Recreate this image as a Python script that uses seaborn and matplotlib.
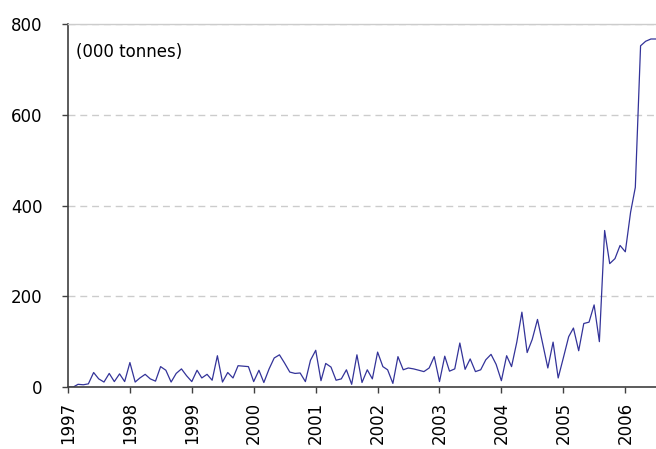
import pandas as pd
import seaborn as sns
import matplotlib.pyplot as plt
import matplotlib.dates as mdates

# Aylık değerler (000 ton), Ocak 1997'den Temmuz 2006'ya kadar
y1997 = [0, 0, 6, 5, 7, 32, 18, 11, 30, 12, 29, 12]
y1998 = [54, 11, 20, 28, 18, 13, 45, 37, 11, 30, 40, 25]
y1999 = [12, 37, 20, 28, 15, 69, 11, 32, 20, 47, 46, 45]
y2000 = [12, 37, 10, 40, 64, 71, 53, 33, 30, 31, 12, 59]
y2001 = [81, 14, 52, 44, 15, 18, 38, 6, 71, 10, 38, 18]
y2002 = [77, 45, 38, 8, 67, 38, 42, 40, 37, 34, 42, 67]
y2003 = [12, 68, 35, 40, 97, 39, 62, 34, 38, 60, 72, 50]
y2004 = [14, 69, 45, 99, 165, 76, 105, 149, 95, 42, 99, 20]
y2005 = [65, 111, 130, 80, 140, 143, 181, 100, 345, 272, 283, 312]
y2006 = [298, 385, 440, 752, 762, 767, 767]

values = y1997 + y1998 + y1999 + y2000 + y2001 + y2002 + y2003 + y2004 + y2005 + y2006
months = pd.date_range("1997-01-01", periods=len(values), freq="MS")
df = pd.DataFrame({"Month": months, "Tonnes": values})

# Görselleştirme ayarları
sns.set_theme(style="white")
plt.rcParams["font.family"] = ["DejaVu Sans"]

fig = plt.figure(figsize=(6.56, 4.49), dpi=100)
ax = fig.add_axes([0.1037, 0.138, 0.8963, 0.8085])

sns.lineplot(data=df, x="Month", y="Tonnes", color="#333399", linewidth=0.9, ax=ax)

ax.set_ylim(0, 800)
ax.set_yticks([0, 200, 400, 600, 800])
ax.set_xlim(pd.Timestamp("1997-01-01"), pd.Timestamp("2006-07-01"))
ax.xaxis.set_major_locator(mdates.YearLocator())
ax.xaxis.set_major_formatter(mdates.DateFormatter("%Y"))
ax.set_xlabel("")
ax.set_ylabel("")

# Kesikli yatay ızgara
ax.yaxis.grid(True, linestyle=(0, (5, 3.5)), color="#cccccc", linewidth=1)
ax.set_axisbelow(True)

for side in ["left", "bottom"]:
    ax.spines[side].set_color("#404040")
    ax.spines[side].set_linewidth(1.2)
ax.spines["right"].set_visible(False)
ax.spines["top"].set_color("#cccccc")
ax.spines["top"].set_linewidth(1)

ax.tick_params(axis="y", direction="out", length=4.5, width=1, color="#404040",
               labelsize=12, labelcolor="black", pad=14, left=True)
ax.tick_params(axis="x", direction="out", length=4.5, width=1, color="#404040",
               labelsize=12, labelcolor="black", pad=6, bottom=True)
plt.setp(ax.get_xticklabels(), rotation=90, ha="center", va="top")

ax.text(0.0136, 0.948, "(000 tonnes)", transform=ax.transAxes, fontsize=12,
        ha="left", va="top", color="black")

fig.savefig("out.png", dpi=100)
